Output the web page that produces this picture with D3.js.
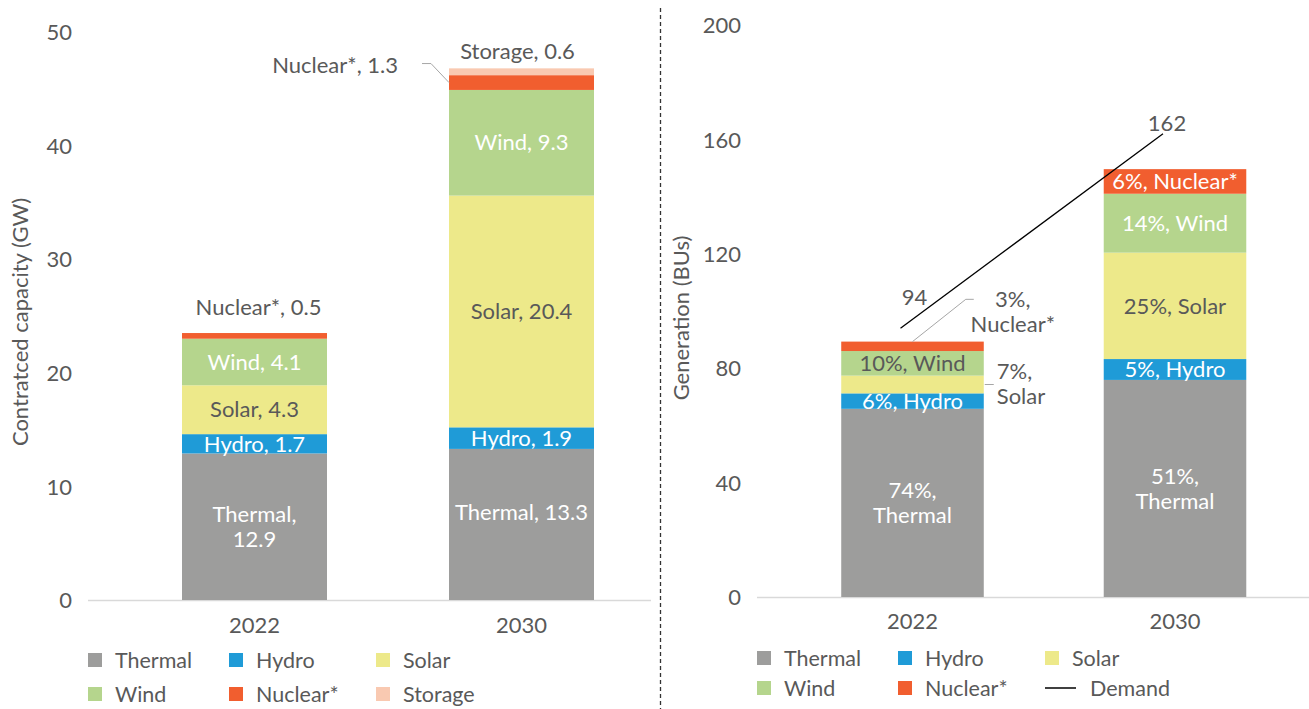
<!DOCTYPE html>
<html><head><meta charset="utf-8">
<script src="https://cdn.jsdelivr.net/npm/d3@7"></script>
<style>body{margin:0;background:#fff} text{font-family:Lato,"Open Sans",sans-serif;}</style>
</head><body><svg id="c" width="1309" height="709"></svg>
<script>
const categories = ["2022","2030"];
const capacitySeries = ["Thermal","Hydro","Solar","Wind","Nuclear*","Storage"];
const capacity2022 = [12.9,1.7,4.3,4.1,0.5,0];
const capacity2030 = [13.3,1.9,20.4,9.3,1.3,0.6];
const capacityTicks = [0,10,20,30,40,50];
const generationSeries = ["Thermal","Hydro","Solar","Wind","Nuclear*"];
const generation2022 = [65.8,5.4,6.2,8.6,3.3];
const generation2030 = [75.9,7.3,37.2,20.6,8.6];
const generationShare2022 = ["74%","6%","7%","10%","3%"];
const generationShare2030 = ["51%","5%","25%","14%","6%"];
const demand = [94,162];
const generationTicks = [0,40,80,120,160,200];
const colors = {"Thermal":"#9d9d9c","Hydro":"#1f9bd7","Solar":"#ede98a","Wind":"#b5d58d","Nuclear*":"#f15e2f","Storage":"#f9c9b1","Demand":"#000"};

const TXT = "#595959";
const FS = 22;
const svg = d3.select("#c");

function rowsFrom(series, vals){
  return categories.map((c,i)=>{const r={cat:c}; series.forEach((s,j)=>r[s]=vals[i][j]); return r;});
}

function addText(g, x, y, lines, opts={}){
  const t = g.append("text").attr("x",x).attr("y",y)
    .attr("fill",opts.color||TXT).attr("font-size",opts.size||FS)
    .attr("text-anchor",opts.anchor||"middle");
  const n = lines.length, lh = 25;
  lines.forEach((l,i)=>{
    t.append("tspan").attr("x",x).attr("y", y + (i-(n-1)/2)*lh).attr("dy","0.35em").text(l);
  });
  return t;
}

function panel(cfg){
  const g = svg.append("g");
  const y = d3.scaleLinear([0,cfg.max], cfg.yRange);
  const x = d3.scaleBand(categories, cfg.xRange).paddingInner(0.457).paddingOuter(0.2285);
  g.append("line").attr("x1",cfg.baseX[0]).attr("x2",cfg.baseX[1]).attr("y1",y(0)+0.5).attr("y2",y(0)+0.5)
    .attr("stroke","#d9d9d9").attr("stroke-width",1.5);
  const ya = d3.axisLeft(y).tickValues(cfg.ticks).tickSize(0).tickPadding(0);
  const yg = g.append("g").attr("transform",`translate(${cfg.tickX},0)`).call(ya);
  yg.select(".domain").remove();
  yg.selectAll("text").attr("font-size",FS).attr("fill",TXT).attr("font-family","Lato,'Open Sans',sans-serif").attr("dy","0.35em");
  const xa = d3.axisBottom(x).tickSize(0).tickPadding(0);
  const xg = g.append("g").attr("transform",`translate(0,${cfg.catY})`).call(xa);
  xg.select(".domain").remove();
  xg.selectAll("text").attr("font-size",FS).attr("fill",TXT).attr("font-family","Lato,'Open Sans',sans-serif").attr("dy","0.35em");
  g.append("text").attr("transform",`translate(${cfg.titleX},${cfg.titleY}) rotate(-90)`)
    .attr("text-anchor","middle").attr("dy","0.35em").attr("font-size",FS).attr("fill",TXT).text(cfg.title);
  const rows = rowsFrom(cfg.series, cfg.values);
  const stacked = d3.stack().keys(cfg.series)(rows);
  stacked.forEach(layer=>{
    g.append("g").attr("fill",colors[layer.key]).selectAll("rect").data(layer).join("rect")
      .attr("x",d=>x(d.data.cat)).attr("width",x.bandwidth())
      .attr("y",d=>y(d[1])).attr("height",d=>Math.max(0,y(d[0])-y(d[1])));
  });
  return {g,x,y,stacked};
}

// ---------- Left panel ----------
const L = panel({max:50, yRange:[600,32], xRange:[121,655], baseX:[88,651], ticks:capacityTicks,
  tickX:72, catY:625, titleX:20, titleY:322, title:"Contratced capacity (GW)",
  series:capacitySeries, values:[capacity2022,capacity2030]});

L.stacked.forEach((layer,si)=>{
  layer.forEach((d,ci)=>{
    const v = ci===0?capacity2022[si]:capacity2030[si];
    if(!v) return;
    const key = layer.key;
    const cx = L.x(d.data.cat)+L.x.bandwidth()/2;
    const cy = (L.y(d[0])+L.y(d[1]))/2;
    const label = `${key}, ${v}`;
    const white = (key==="Thermal"||key==="Hydro"||key==="Wind");
    const col = white?"#fff":TXT;
    if(key==="Thermal" && ci===0){ addText(L.g,cx,cy,[`${key},`,`${v}`],{color:col}); }
    else if(key==="Thermal"){ addText(L.g,cx,cy-12,[label],{color:col}); }
    else if(key==="Nuclear*" && ci===0){ addText(L.g,cx+4,L.y(d[1])-26,[label]); }
    else if(key==="Storage"){ addText(L.g,cx-4,L.y(d[1])-17,[label]); }
    else if(key==="Nuclear*"){
      const bx = L.x(d.data.cat);
      addText(L.g,bx-51,cy-17,[label],{anchor:"end"});
      L.g.append("path").attr("d",`M${bx-27},${cy-19}L${bx-18},${cy-19}L${bx},${cy}`)
        .attr("fill","none").attr("stroke","#a6a6a6").attr("stroke-width",1);
    }
    else addText(L.g,cx,cy,[label],{color:col});
  });
});

// ---------- Right panel ----------
const R = panel({max:200, yRange:[597,25], xRange:[781.25,1306.25], baseX:[757,1309], ticks:generationTicks,
  tickX:741, catY:621, titleX:681, titleY:318, title:"Generation (BUs)",
  series:generationSeries, values:[generation2022,generation2030]});

R.stacked.forEach((layer,si)=>{
  layer.forEach((d,ci)=>{
    const share = (ci===0?generationShare2022:generationShare2030)[si];
    const key = layer.key;
    const bx = R.x(d.data.cat), bw = R.x.bandwidth();
    const cx = bx+bw/2;
    const cy = (R.y(d[0])+R.y(d[1]))/2;
    const label = `${share}, ${key}`;
    let col = (key==="Solar")?TXT:"#fff";
    if(ci===0 && key==="Wind") col = TXT;
    if(key==="Thermal"){ addText(R.g,cx,cy,[`${share},`,key],{color:col}); }
    else if(ci===0 && key==="Solar"){
      addText(R.g,bx+bw+13,cy-1,[`${share},`,key],{anchor:"start"});
      R.g.append("line").attr("x1",bx+bw+1).attr("x2",bx+bw+10).attr("y1",cy).attr("y2",cy)
        .attr("stroke","#a6a6a6").attr("stroke-width",1);
    }
    else if(ci===0 && key==="Nuclear*"){
      const ty = cy-35;
      addText(R.g,bx+bw+29,ty,[`${share},`,key],{anchor:"middle"});
      R.g.append("path").attr("d",`M${cx},${R.y(d[1])}L${bx+bw-18},${ty-12}L${bx+bw-10},${ty-12}`)
        .attr("fill","none").attr("stroke","#a6a6a6").attr("stroke-width",1);
    }
    else addText(R.g,cx,cy,[label],{color:col});
  });
});

// demand line
const dLine = d3.line().x((d,i)=>R.x(categories[i])+R.x.bandwidth()/2-12).y(d=>R.y(d));
R.g.append("path").attr("d",dLine(demand)).attr("fill","none").attr("stroke","#000").attr("stroke-width",1.3);
demand.forEach((v,i)=>{
  addText(R.g,R.x(categories[i])+R.x.bandwidth()/2+(i===0?2:-8),R.y(v)-(i===0?31:10),[`${v}`]);
});

// divider
svg.append("line").attr("x1",660.5).attr("x2",660.5).attr("y1",8).attr("y2",709)
  .attr("stroke","#333").attr("stroke-width",1.3).attr("stroke-dasharray","4,3");

// legends
function legend(items, xs, ys){
  items.forEach((it,i)=>{
    const lx = xs[i%3], ly = ys[Math.floor(i/3)];
    if(it==="Demand"){
      svg.append("line").attr("x1",lx).attr("x2",lx+31).attr("y1",ly).attr("y2",ly).attr("stroke","#000").attr("stroke-width",1.5);
      addText(svg,lx+45,ly,[it],{anchor:"start",size:21.5});
    } else {
      svg.append("rect").attr("x",lx).attr("y",ly-7).attr("width",14).attr("height",14).attr("fill",colors[it]);
      addText(svg,lx+27,ly,[it],{anchor:"start",size:21.5});
    }
  });
}
legend(capacitySeries,[88,229,376],[660,694]);
legend(generationSeries.concat(["Demand"]),[757,898,1045],[658,688]);
</script></body></html>
